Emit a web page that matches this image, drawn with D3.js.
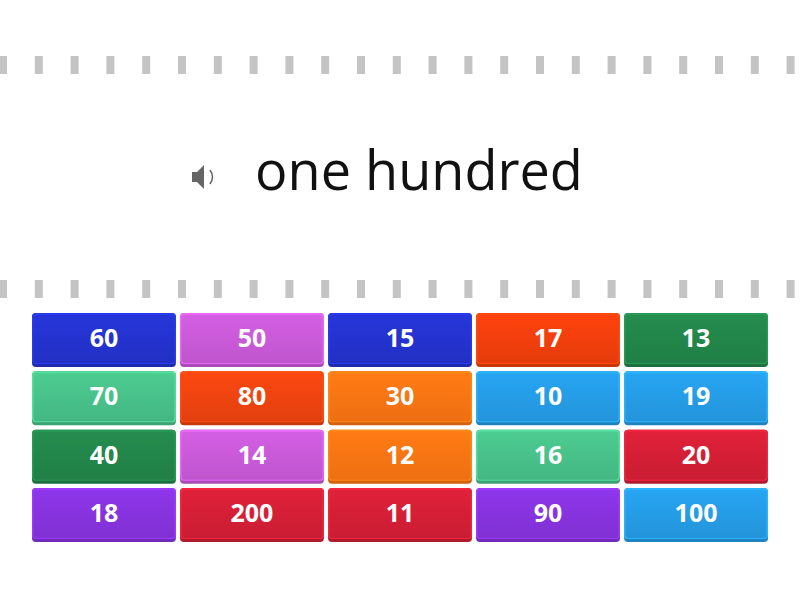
<!DOCTYPE html><html><head><meta charset="utf-8"><script src="https://cdn.jsdelivr.net/npm/d3@7"></script>
<style>body{margin:0;background:#fff}svg{display:block}</style></head><body><svg width="800" height="600"></svg>
<script>
const labels=["60","50","15","17","13","70","80","30","10","19","40","14","12","16","20","18","200","11","90","100"];
const colorKeys=["blue","pink","blue","orange2","dgreen","lgreen","redorange","orange","lblue","lblue","dgreen","pink","orange","lgreen","red","violet","red","red","violet","lblue"];
const question="one hundred";
const palette={blue:"#2433cf",pink:"#c95ad8",redorange:"#ee4410",orange2:"#f23f0c",dgreen:"#22864a",lgreen:"#48c189",orange:"#fb7513",lblue:"#259ce6",red:"#d41f36",violet:"#8733df"};
const svg=d3.select("svg");
const defs=svg.append("defs");
Object.entries(palette).forEach(([k,c])=>{const g=defs.append("linearGradient").attr("id","g"+k).attr("x1",0).attr("x2",0).attr("y1",0).attr("y2",1);
g.append("stop").attr("offset","0").attr("stop-color",d3.color(c).brighter(0.15));g.append("stop").attr("offset","1").attr("stop-color",d3.color(c).darker(0.15));});
const dashX=d3.range(0,800,35.8);
[56,280].forEach(y=>svg.append("g").selectAll("rect").data(dashX).join("rect").attr("x",d=>d-1).attr("y",y).attr("width",8).attr("height",18).attr("fill","#c4c4c4"));
svg.append("text").attr("x",419).attr("y",190).attr("text-anchor","middle").attr("font-family","Open Sans").attr("font-size",54).attr("fill","#111").text(question);
const sp=svg.append("g").attr("transform","translate(192,177)");
sp.append("path").attr("d","M0,-5H5L12,-12V12L5,5H0Z").attr("fill","#666");
sp.append("path").attr("d","M18,-7Q23,0 18,7").attr("fill","none").attr("stroke","#666").attr("stroke-width",1.5);
const cols=d3.range(5),rows=d3.range(4);
const x=d3.scaleBand().domain(cols).range([32,768]).paddingInner(0.028);
const y=d3.scaleBand().domain(rows).range([313,542]).paddingInner(0.075);
const tiles=svg.append("g").selectAll("g").data(labels).join("g").attr("transform",(d,i)=>`translate(${x(i%5)},${y(Math.floor(i/5))})`);
tiles.append("rect").attr("width",x.bandwidth()).attr("height",y.bandwidth()).attr("rx",4).attr("fill",(d,i)=>d3.color(palette[colorKeys[i]]).darker(0.5));
tiles.append("rect").attr("width",x.bandwidth()).attr("height",y.bandwidth()-3).attr("rx",4).attr("fill",(d,i)=>d3.color(palette[colorKeys[i]]).brighter(0.4));
tiles.append("rect").attr("x",1.5).attr("y",2).attr("width",x.bandwidth()-3).attr("height",y.bandwidth()-6).attr("rx",3).attr("fill",(d,i)=>`url(#g${colorKeys[i]})`);
tiles.append("text").attr("x",x.bandwidth()/2).attr("y",y.bandwidth()/2+7).attr("text-anchor","middle").attr("font-family","Open Sans").attr("font-weight","bold").attr("font-size",25).attr("fill","#fff").text(d=>d);
</script></body></html>
